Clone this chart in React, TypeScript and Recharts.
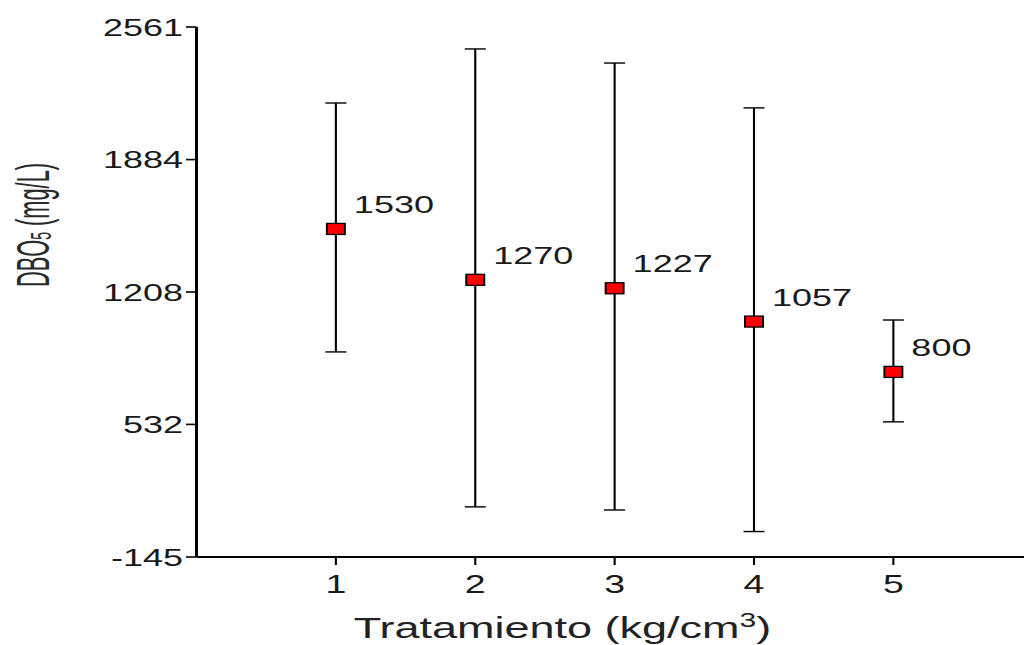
import { ScatterChart, Scatter, XAxis, YAxis, ErrorBar } from "recharts";

const treatments = [1, 2, 3, 4, 5];
const means = [1530, 1270, 1227, 1057, 800];
const lows = [902, 111, 95, -15, 545];
const highs = [2173, 2449, 2377, 2148, 1065];
const xTicks = [1, 2, 3, 4, 5];
const yTicks = [-145, 532, 1208, 1884, 2561];

const data = treatments.map((t, i) => ({
  x: t,
  y: means[i],
  err: [means[i] - lows[i], highs[i] - means[i]],
  label: means[i],
}));

// the reference is stretched sideways, so the chart is drawn narrow and scaled
const stretch = 1.5;
const font = "'Liberation Sans', Arial, sans-serif";

const Marker = (props: any) => {
  const { cx, cy, payload } = props;
  return (
    <g>
      <rect x={cx - 6} y={cy - 5.5} width={12} height={11} fill="#ff0000" stroke="#000" strokeWidth={1.3} />
      <text x={cx + 12} y={cy - 16} fontSize={24} fontFamily={font} fill="#1a1a1a">
        {payload.label}
      </text>
    </g>
  );
};

const YTitle = () => (
  <text
    transform="translate(22,225) rotate(-90)"
    textAnchor="middle"
    dominantBaseline="central"
    fontSize={31}
    fontFamily={font}
    fill="#2a2a2a"
    textLength={124}
    lengthAdjust="spacingAndGlyphs"
  >
    DBO
    <tspan fontSize={20} dy={5}>5</tspan>
    <tspan fontSize={31} dy={-5}> (mg/L)</tspan>
  </text>
);

const XTitle = () => (
  <text x={375} y={638} textAnchor="middle" fontSize={30} fontFamily={font} fill="#222">
    Tratamiento (kg/cm<tspan fontSize={20} dy={-11}>3</tspan>
    <tspan dy={11}>)</tspan>
  </text>
);

export default function App() {
  return (
    <div style={{ position: "fixed", left: 0, top: 0, width: 1024, height: 645, overflow: "hidden", background: "#fff" }}>
      <div style={{ transform: `scaleX(${stretch})`, transformOrigin: "0 0", width: 700 }}>
        <ScatterChart width={700} height={645} margin={{ top: 27, right: 11.5, bottom: 0, left: 0 }}>
          <XAxis
            type="number"
            dataKey="x"
            domain={[0, 6]}
            ticks={xTicks}
            height={88}
            tickSize={8}
            tickMargin={10}
            axisLine={{ stroke: "#000", strokeWidth: 1.8 }}
            tickLine={{ stroke: "#000", strokeWidth: 1.4 }}
            tick={{ fontSize: 25, fill: "#1a1a1a", fontFamily: font }}
            label={{ content: XTitle }}
          />
          <YAxis
            type="number"
            dataKey="y"
            domain={[-145, 2561]}
            ticks={yTicks}
            width={131}
            tickSize={7}
            tickMargin={2}
            interval={0}
            allowDataOverflow
            axisLine={{ stroke: "#000", strokeWidth: 2 }}
            tickLine={{ stroke: "#000", strokeWidth: 1.6 }}
            tick={{ fontSize: 24, fill: "#1a1a1a", fontFamily: font }}
            label={{ content: YTitle }}
          />
          <Scatter data={data} shape={Marker} isAnimationActive={false}>
            <ErrorBar dataKey="err" direction="y" width={7} stroke="#000" strokeWidth={1.4} isAnimationActive={false} />
          </Scatter>
        </ScatterChart>
      </div>
    </div>
  );
}
